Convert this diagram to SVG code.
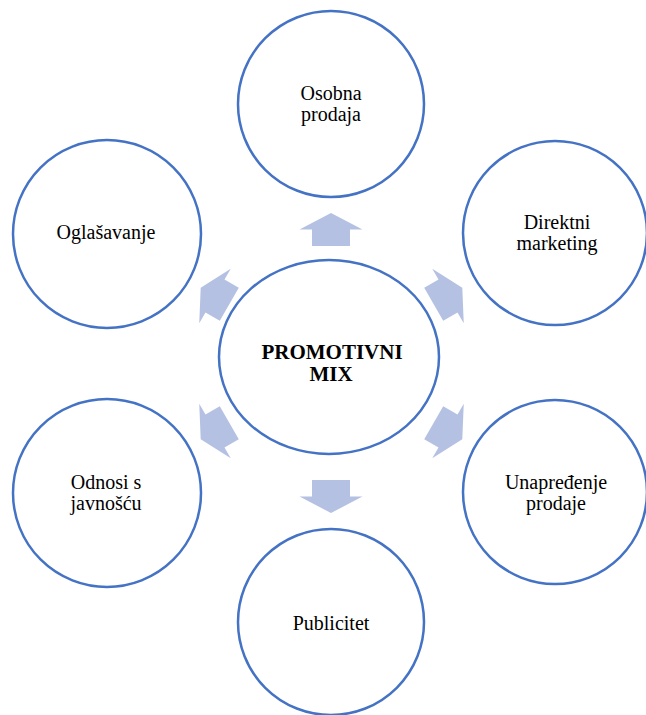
<svg xmlns="http://www.w3.org/2000/svg" width="646" height="715" viewBox="0 0 646 715">
<style>
.node{fill:#FFFFFF;stroke:#4472C4;stroke-width:2.5}
.lbl{font-family:"Liberation Serif","Times New Roman",serif;font-size:20px;fill:#000000;text-anchor:middle}
.main{font-family:"Liberation Serif","Times New Roman",serif;font-size:21px;font-weight:bold;fill:#000000;text-anchor:middle}
.arr{fill:#B4C1E2}
</style>
<defs>
<polygon id="arrow" points="0,-16.5 31.5,0 19,0 19,16.5 -19,16.5 -19,0 -31.5,0"/>
</defs>
<rect width="646" height="715" fill="#FFFFFF"/>
<g id="connectors">
<use href="#arrow" class="arr" transform="translate(331,229.5)"/>
<use href="#arrow" class="arr" transform="translate(448,296) rotate(60)"/>
<use href="#arrow" class="arr" transform="translate(448,431) rotate(120)"/>
<use href="#arrow" class="arr" transform="translate(331,496.5) rotate(180)"/>
<use href="#arrow" class="arr" transform="translate(215,431) rotate(-120)"/>
<use href="#arrow" class="arr" transform="translate(215,296) rotate(-60)"/>
</g>
<g id="center">
<ellipse class="node" cx="329" cy="357" rx="110" ry="97"/>
<text class="main" x="332" y="359">PROMOTIVNI</text>
<text class="main" x="331" y="381">MIX</text>
</g>
<g id="osobna-prodaja">
<circle class="node" cx="331" cy="104" r="93"/>
<text class="lbl" x="331" y="100">Osobna</text>
<text class="lbl" x="331" y="121">prodaja</text>
</g>
<g id="direktni-marketing">
<circle class="node" cx="555" cy="233" r="92"/>
<text class="lbl" x="557" y="229">Direktni</text>
<text class="lbl" x="557" y="250">marketing</text>
</g>
<g id="unapredjenje-prodaje">
<circle class="node" cx="555" cy="492" r="92"/>
<text class="lbl" x="556" y="489">Unapređenje</text>
<text class="lbl" x="556" y="510">prodaje</text>
</g>
<g id="publicitet">
<circle class="node" cx="331" cy="622" r="93"/>
<text class="lbl" x="331" y="630">Publicitet</text>
</g>
<g id="odnosi-s-javnoscu">
<circle class="node" cx="107" cy="493" r="94"/>
<text class="lbl" x="106" y="489">Odnosi s</text>
<text class="lbl" x="106" y="510">javnošću</text>
</g>
<g id="oglasavanje">
<circle class="node" cx="107" cy="234" r="94"/>
<text class="lbl" x="106" y="239">Oglašavanje</text>
</g>
</svg>
